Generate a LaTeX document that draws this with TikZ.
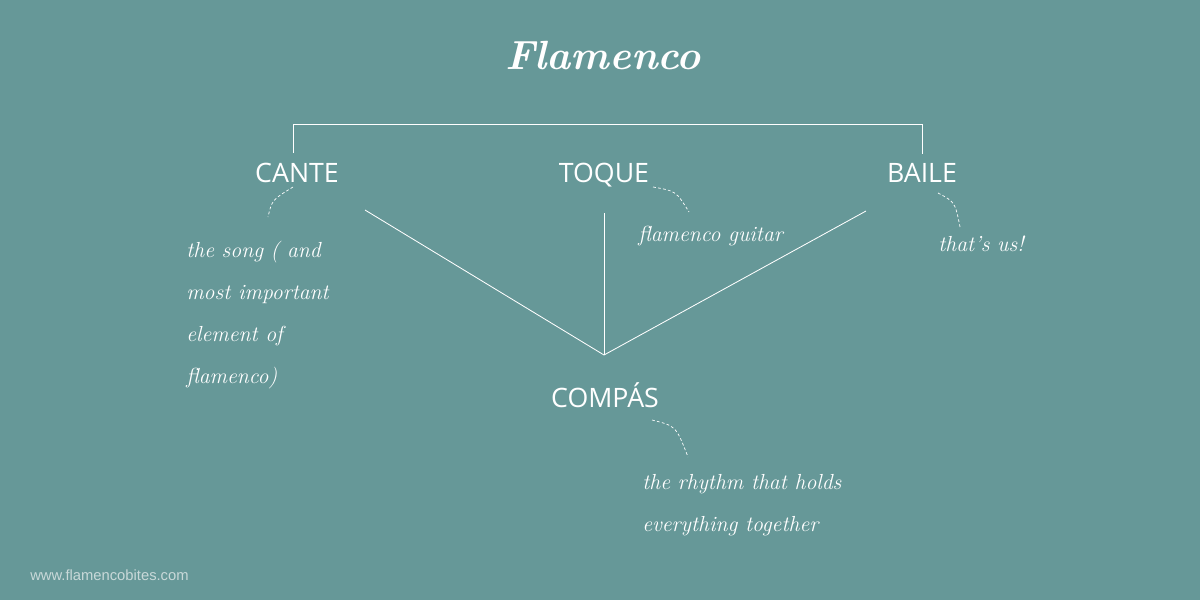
\documentclass[tikz,border=0pt]{standalone}
\usepackage{fontspec}
\setmainfont{Latin Modern Roman}
\newfontfamily\labelfont{Open Sans}
\newfontfamily\footfont{Liberation Sans}
\definecolor{bgteal}{HTML}{669898}
\definecolor{footgray}{HTML}{C9D9D9}
\tikzset{
  lbl/.style={text=white, font=\labelfont\fontsize{19}{22}\selectfont, inner sep=0pt, anchor=base},
  note/.style={text=white, font=\itshape\fontsize{15.5}{30}\selectfont, inner sep=0pt, align=left},
  conn/.style={white, line width=0.6pt},
  dashcurve/.style={white, line width=0.5pt, dash pattern=on 2pt off 1.6pt}
}
\begin{document}
\begin{tikzpicture}[x=0.025cm, y=-0.025cm]
\fill[bgteal] (0,0) rectangle (1200,600);
\useasboundingbox (0,0) rectangle (1200,600);

% title
\node[text=white, font=\bfseries\itshape\fontsize{29}{34}\selectfont, inner sep=0pt] (title) at (603,55) {Flamenco};

% labels
\node[lbl] (cante) at (297,182) {CANTE};
\node[lbl] (toque) at (604,182) {TOQUE};
\node[lbl] (baile) at (922,182) {BAILE};
\node[lbl] (compas) at (605,407) {COMPÁS};

% bracket
\coordinate (bl) at (293,153);
\coordinate (br) at (922,154);
\draw[conn] (bl) -- (293,124) -- (922,124) -- (br);

% V connectors
\coordinate (vtip) at (604,355);
\coordinate (vl) at (365,210);
\coordinate (vm) at (604,213);
\coordinate (vr) at (866,211);
\draw[conn] (vl) -- (vtip);
\draw[conn] (vm) -- (vtip);
\draw[conn] (vr) -- (vtip);

% annotations
\node[note, anchor=west] (nsong) at (186,315) {the song ( and\\most important\\element of\\flamenco)};
\node[note, anchor=west] (nguitar) at (638,236) {flamenco guitar};
\node[note, anchor=west] (nus) at (938,244) {that's us!};
\node[note, anchor=west] (nrhythm) at (642,505) {the rhythm that holds\\everything together};

% dashed leaders
\coordinate (c1a) at (293,187); \coordinate (c1b) at (268,217);
\coordinate (c2a) at (653,187); \coordinate (c2b) at (689,212);
\coordinate (c3a) at (938,193); \coordinate (c3b) at (960,227);
\coordinate (c4a) at (652,420); \coordinate (c4b) at (688,457);
\draw[dashcurve] (c1a) .. controls (272,200) .. (c1b);
\draw[dashcurve] (c2a) .. controls (676,191) .. (c2b);
\draw[dashcurve] (c3a) .. controls (955,202) .. (c3b);
\draw[dashcurve] (c4a) .. controls (676,426) .. (c4b);

% footer
\node[text=footgray, font=\footfont\fontsize{10.5}{12}\selectfont, inner sep=0pt, anchor=west] (foot) at (30,575) {www.flamencobites.com};
\end{tikzpicture}
\end{document}
